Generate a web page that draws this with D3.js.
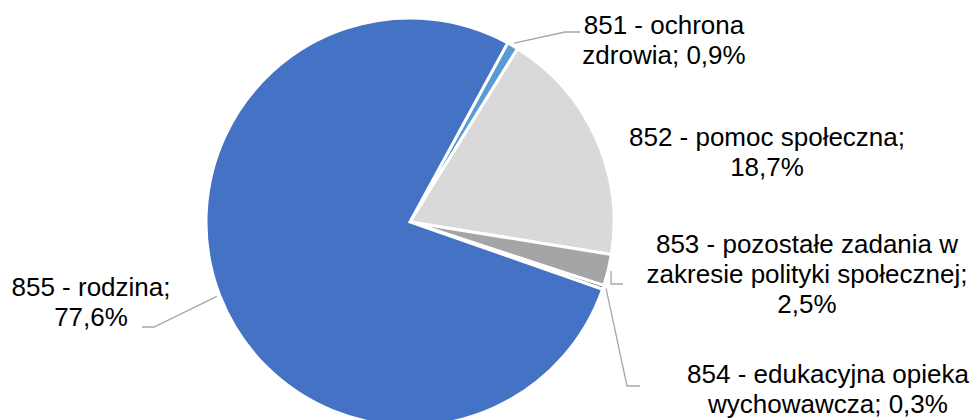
<!DOCTYPE html>
<html lang="pl">
<head>
  <meta charset="UTF-8">
  <title>Struktura wydatków</title>
  <script src="https://d3js.org/d3.v7.min.js"></script>
  <style>
    html, body {
      margin: 0;
      padding: 0;
      background: #fff;
    }
    .label {
      font-family: "Liberation Sans", Arial, sans-serif;
      font-size: 26px;
      fill: #000;
    }
    .leader {
      fill: none;
      stroke: #a6a6a6;
      stroke-width: 1.3px;
    }
  </style>
</head>
<body>
  <svg width="976" height="420"></svg>

  <script>
    // data
    const codes = ["851", "852", "853", "854", "855"];
    const names = ["ochrona zdrowia", "pomoc społeczna", "pozostałe zadania w zakresie polityki społecznej",
                   "edukacyjna opieka wychowawcza", "rodzina"];
    const shares = [0.9, 18.7, 2.5, 0.3, 77.6];
    const labelLines = [
      ["851 - ochrona", "zdrowia; 0,9%"],
      ["852 - pomoc społeczna;", "18,7%"],
      ["853 - pozostałe zadania w", "zakresie polityki społecznej;", "2,5%"],
      ["854 - edukacyjna opieka", "wychowawcza; 0,3%"],
      ["855 - rodzina;", "77,6%"]
    ];
    const colors = ["#5b9bd5", "#d9d9d9", "#a5a5a5", "#264478", "#4472c4"];

    // layout of labels (centre x, first baseline) and leader elbows
    const labelPos = [
      { x: 664, y: 34 },
      { x: 767, y: 146 },
      { x: 807, y: 253 },
      { x: 828, y: 383 },
      { x: 91, y: 296 }
    ];
    const leaders = [
      [[565, 32], [580, 32]],
      null,
      [[611, 284], [623, 284]],
      [[627, 386], [640, 386]],
      [[154, 327], [142, 327]]
    ];

    const svg = d3.select("svg");
    const cx = 410, cy = 222, radius = 204;
    const rot = 28.6 * Math.PI / 180;

    const data = codes.map((c, i) => ({ code: c, name: names[i], value: shares[i], i }));

    const pie = d3.pie()
      .value(d => d.value)
      .sort(null)
      .startAngle(rot)
      .endAngle(rot + 2 * Math.PI);

    const arcs = pie(data);
    const arc = d3.arc().innerRadius(0).outerRadius(radius);

    const g = svg.append("g").attr("transform", `translate(${cx},${cy})`);

    g.selectAll("path.slice")
      .data(arcs)
      .enter().append("path")
      .attr("class", "slice")
      .attr("d", arc)
      .attr("fill", d => colors[d.data.i])
      .attr("stroke", "#fff")
      .attr("stroke-width", 3);

    // leader lines start at the outer edge of each slice
    function edgePoint(d, r) {
      const a = (d.startAngle + d.endAngle) / 2;
      return [cx + r * Math.sin(a), cy - r * Math.cos(a)];
    }
    const line = d3.line();
    svg.selectAll("path.leader")
      .data(arcs.filter(d => leaders[d.data.i]))
      .enter().append("path")
      .attr("class", "leader")
      .attr("d", d => line([edgePoint(d, radius + 3)].concat(leaders[d.data.i])));

    const lineGap = 30;
    const labels = svg.selectAll("text.label")
      .data(data)
      .enter().append("text")
      .attr("class", "label")
      .attr("text-anchor", "middle")
      .attr("x", d => labelPos[d.i].x)
      .attr("y", d => labelPos[d.i].y);

    labels.each(function(d) {
      d3.select(this).selectAll("tspan")
        .data(labelLines[d.i])
        .enter().append("tspan")
        .attr("x", labelPos[d.i].x)
        .attr("y", (t, k) => labelPos[d.i].y + k * lineGap)
        .text(t => t);
    });
  </script>
</body>
</html>
